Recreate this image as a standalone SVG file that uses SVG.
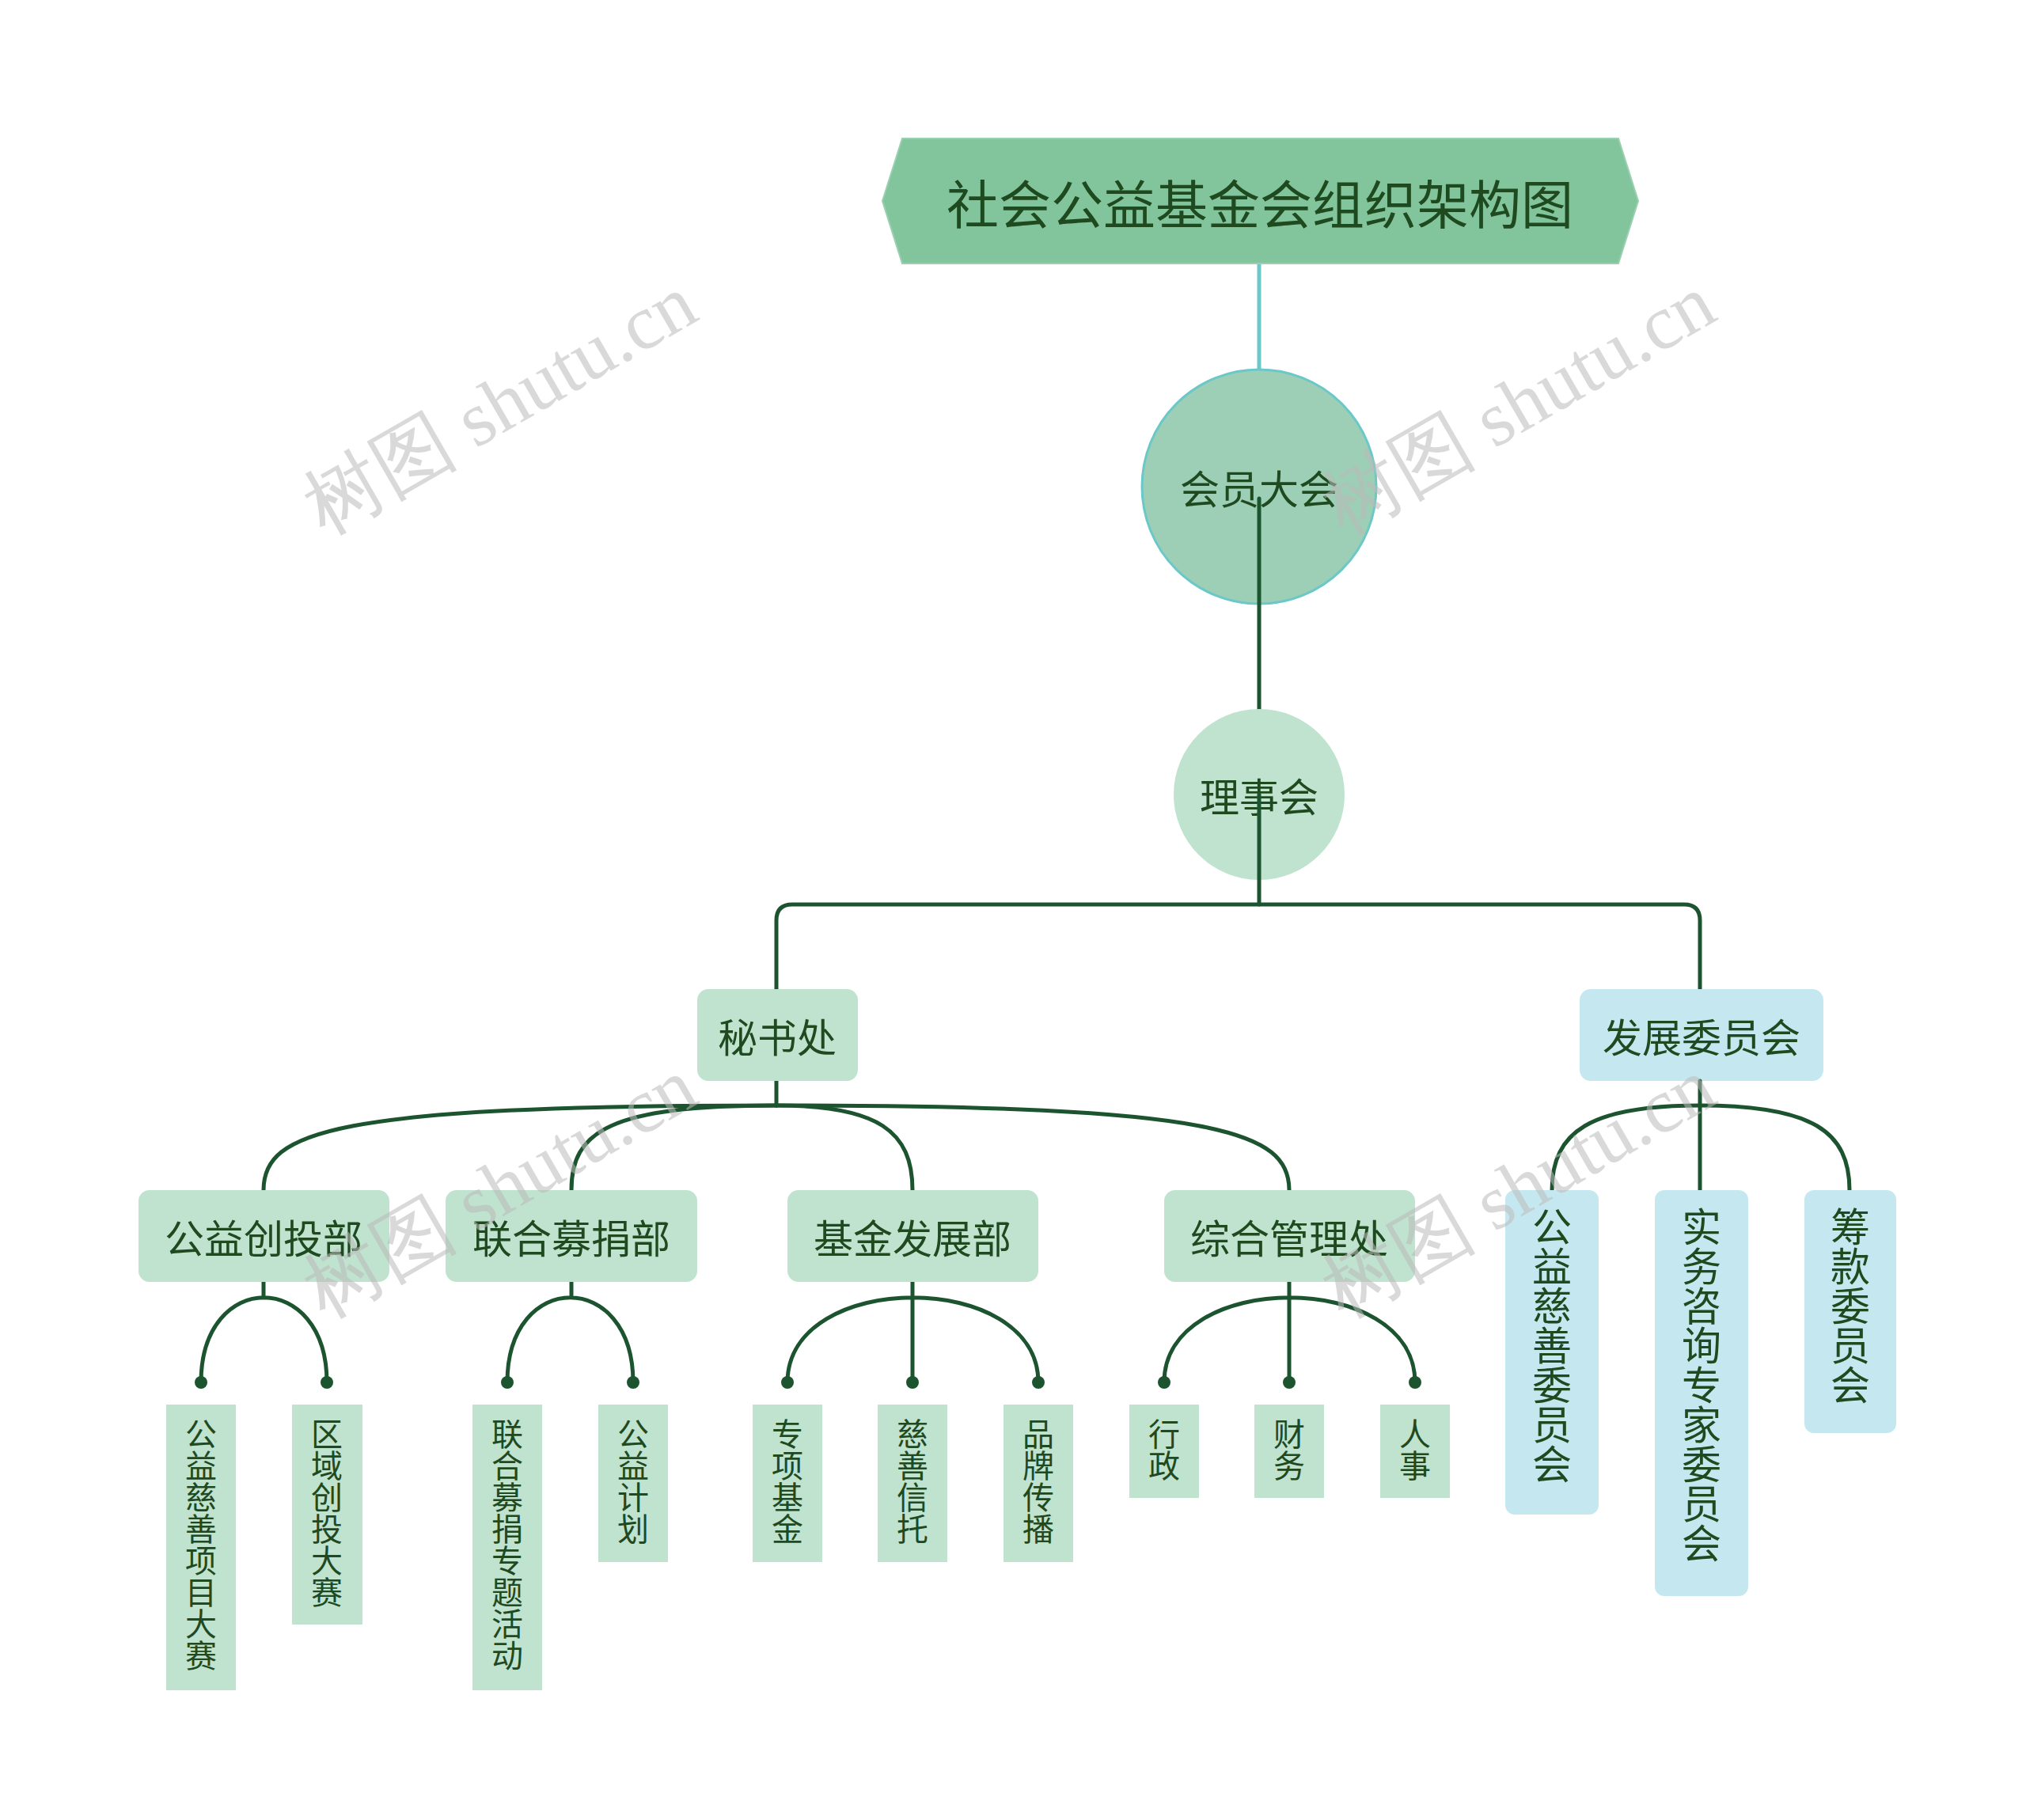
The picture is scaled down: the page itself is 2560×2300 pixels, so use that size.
<svg xmlns="http://www.w3.org/2000/svg" width="2560" height="2300" viewBox="0 0 2560 2300">
<style>
.t{font-family:"Noto Sans CJK SC","Noto Sans",sans-serif;fill:#1f4a1f;text-anchor:middle;dominant-baseline:central}
.c{fill:none;stroke:#1d5430;stroke-width:5;stroke-linecap:round}
.g{fill:#c0e3cf}
.b{fill:#c5e8f0}
.v{writing-mode:tb;font-size:40px;text-anchor:start}
.vb{writing-mode:tb;font-size:50px;text-anchor:start}
.wm{font-family:"Liberation Serif",serif;font-size:98px;fill:#bbb;opacity:0.55;text-anchor:middle}
</style>
<rect width="2560" height="2300" fill="#fff"/>
<g id="connectors">
<line x1="1591" y1="333" x2="1591" y2="470" stroke="#6cc8c8" stroke-width="5"/>
<path class="c" d="M981 1250 V1163 Q981 1143 1001 1143 H2128 Q2148 1143 2148 1163 V1250"/>
<path class="c" d="M981 1366 V1397"/>
<path class="c" d="M981 1397 C420 1397 333 1430 333 1504"/>
<path class="c" d="M981 1397 C770 1397 722 1430 722 1504"/>
<path class="c" d="M981 1397 C1110 1397 1153 1430 1153 1504"/>
<path class="c" d="M981 1397 C1540 1397 1629 1430 1629 1504"/>
<path class="c" d="M2148 1397 C2010 1397 1961 1430 1961 1504"/>
<path class="c" d="M2148 1397 C2290 1397 2337 1430 2337 1504"/>
<path class="c" d="M333 1620 V1640 M254 1747 C254 1604 413 1604 413 1747"/>
<path class="c" d="M722 1620 V1640 M641 1747 C641 1604 800 1604 800 1747"/>
<path class="c" d="M1153 1620 V1747 M995 1747 C995 1604 1312 1604 1312 1747"/>
<path class="c" d="M1629 1620 V1747 M1471 1747 C1471 1604 1788 1604 1788 1747"/>
<g fill="#1d5430"><circle cx="254" cy="1747" r="8"/><circle cx="413" cy="1747" r="8"/><circle cx="641" cy="1747" r="8"/><circle cx="800" cy="1747" r="8"/><circle cx="995" cy="1747" r="8"/><circle cx="1153" cy="1747" r="8"/><circle cx="1312" cy="1747" r="8"/><circle cx="1471" cy="1747" r="8"/><circle cx="1629" cy="1747" r="8"/><circle cx="1788" cy="1747" r="8"/></g>
</g>
<g id="title"><polygon points="1140,175 2045,175 2070,254 2045,333 1140,333 1115,254" fill="#82c49c" stroke="#9ad0b0" stroke-width="2"/><text class="t" x="1592" y="254" font-size="66">社会公益基金会组织架构图</text></g>
<g id="n1"><circle cx="1591" cy="615" r="148" fill="#9ccfb5" stroke="#6cc8c8" stroke-width="3"/><text class="t" x="1591" y="615" font-size="50">会员大会</text></g>
<path class="c" d="M1591 630 V900"/>
<g id="n2"><circle cx="1591" cy="1004" r="108" class="g"/><text class="t" x="1591" y="1004" font-size="50">理事会</text></g>
<path class="c" d="M1591 1004 V1143"/>
<g id="n3"><rect x="881" y="1250" width="203" height="116" rx="14" class="g"/><text class="t" x="982" y="1308" font-size="50">秘书处</text></g>
<g id="n4"><rect x="1996" y="1250" width="308" height="116" rx="14" class="b"/><text class="t" x="2150" y="1308" font-size="50">发展委员会</text></g>
<path class="c" d="M2148 1366 V1504"/>
<g id="n5"><rect x="175" y="1504" width="317" height="116" rx="14" class="g"/><text class="t" x="333" y="1562" font-size="50">公益创投部</text></g>
<g id="n6"><rect x="563" y="1504" width="318" height="116" rx="14" class="g"/><text class="t" x="722" y="1562" font-size="50">联合募捐部</text></g>
<g id="n7"><rect x="995" y="1504" width="317" height="116" rx="14" class="g"/><text class="t" x="1153" y="1562" font-size="50">基金发展部</text></g>
<g id="n8"><rect x="1471" y="1504" width="317" height="116" rx="14" class="g"/><text class="t" x="1629" y="1562" font-size="50">综合管理处</text></g>
<g id="n9"><rect x="1902" y="1504" width="118" height="410" rx="12" class="b"/><text class="t vb" x="1961" y="1525">公益慈善委员会</text></g>
<g id="n10"><rect x="2091" y="1504" width="118" height="513" rx="12" class="b"/><text class="t vb" x="2150" y="1525">实务咨询专家委员会</text></g>
<g id="n11"><rect x="2280" y="1504" width="116" height="307" rx="12" class="b"/><text class="t vb" x="2338" y="1525">筹款委员会</text></g>
<g id="l1"><rect x="210" y="1775" width="88" height="361" class="g"/><text class="t v" x="254" y="1792">公益慈善项目大赛</text></g>
<g id="l2"><rect x="369" y="1775" width="89" height="278" class="g"/><text class="t v" x="413" y="1792">区域创投大赛</text></g>
<g id="l3"><rect x="597" y="1775" width="88" height="361" class="g"/><text class="t v" x="641" y="1792">联合募捐专题活动</text></g>
<g id="l4"><rect x="756" y="1775" width="88" height="199" class="g"/><text class="t v" x="800" y="1792">公益计划</text></g>
<g id="l5"><rect x="951" y="1775" width="88" height="199" class="g"/><text class="t v" x="995" y="1792">专项基金</text></g>
<g id="l6"><rect x="1109" y="1775" width="88" height="199" class="g"/><text class="t v" x="1153" y="1792">慈善信托</text></g>
<g id="l7"><rect x="1268" y="1775" width="88" height="199" class="g"/><text class="t v" x="1312" y="1792">品牌传播</text></g>
<g id="l8"><rect x="1427" y="1775" width="88" height="118" class="g"/><text class="t v" x="1471" y="1792">行政</text></g>
<g id="l9"><rect x="1585" y="1775" width="88" height="118" class="g"/><text class="t v" x="1629" y="1792">财务</text></g>
<g id="l10"><rect x="1744" y="1775" width="88" height="118" class="g"/><text class="t v" x="1788" y="1792">人事</text></g>
<g id="watermarks">
<text class="wm" transform="translate(648,540) rotate(-30)">树图 shutu.cn</text>
<text class="wm" transform="translate(1935,540) rotate(-30)">树图 shutu.cn</text>
<text class="wm" transform="translate(648,1530) rotate(-30)">树图 shutu.cn</text>
<text class="wm" transform="translate(1935,1530) rotate(-30)">树图 shutu.cn</text>
</g>
</svg>
